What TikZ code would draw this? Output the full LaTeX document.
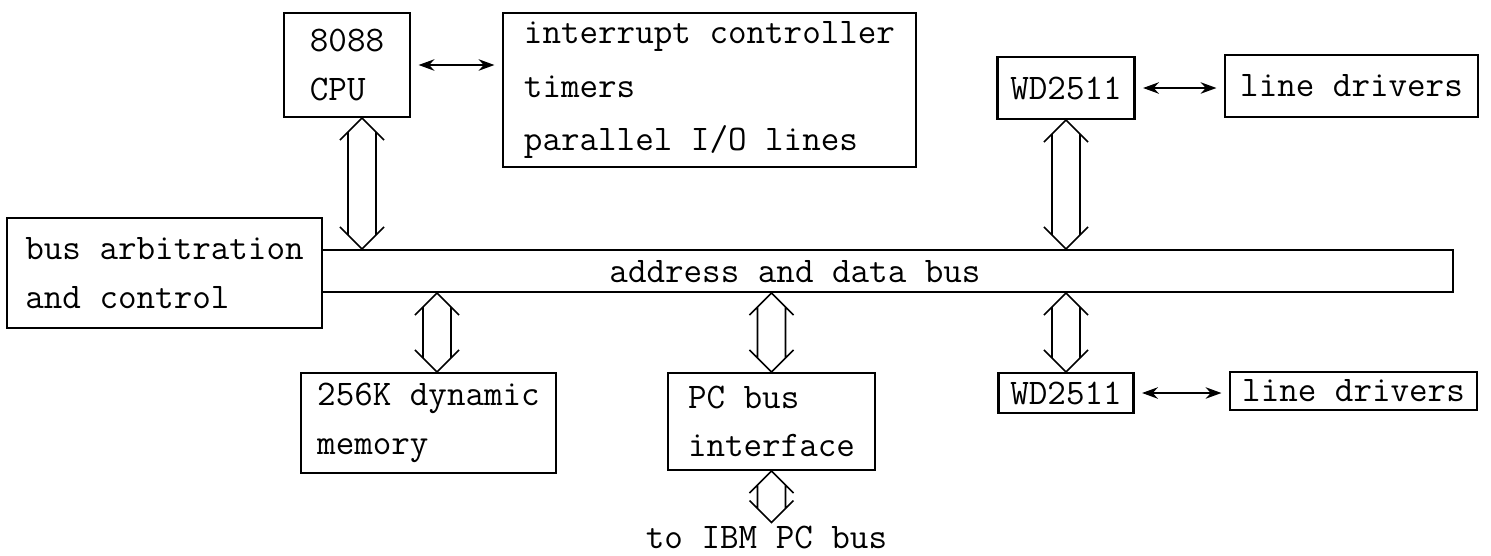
\documentclass[tikz,border=0pt]{standalone}
\usepackage{tikz}
\usetikzlibrary{arrows.meta}
\usetikzlibrary{calc}

\newcommand{\tyfont}{\fontsize{20.5}{27.5}\selectfont\ttfamily}

\tikzset{
  block/.style={draw=black, line width=1.2pt, align=left, inner sep=0pt, font=\tyfont},
  biarrow/.style={line width=1.1pt, {Stealth[length=9pt,width=6.5pt]}-{Stealth[length=9pt,width=6.5pt]}, shorten <=0.15cm, shorten >=0.15cm},
  % wide hollow two-way arrow, drawn from an upper point to a lower one
  busarrow/.style={line width=0.9pt, line join=miter, to path={let \p1=(\tikztostart), \p2=(\tikztotarget) in
     (\x1-0.44cm,\y1-0.44cm) -- (\x1,\y1) -- (\x1+0.44cm,\y1-0.44cm)
     (\x1-0.28cm,\y1-0.28cm) -- (\x2-0.28cm,\y2+0.28cm)
     (\x1+0.28cm,\y1-0.28cm) -- (\x2+0.28cm,\y2+0.28cm)
     (\x2-0.44cm,\y2+0.44cm) -- (\x2,\y2) -- (\x2+0.44cm,\y2+0.44cm)}}
}

\begin{document}
\begin{tikzpicture}

\useasboundingbox (0, 0) rectangle (29.82, 11.1);

\node[block, minimum width=2.52cm, minimum height=2.08cm] (cpu) at (6.94, 9.80) {8088\\CPU};
\node[block, minimum width=8.26cm, minimum height=3.08cm] (intr) at (14.19, 9.30) {interrupt controller\\[3pt]timers\\[3pt]parallel I/O lines};

\node[block, minimum width=2.74cm, minimum height=1.24cm] (wdtop) at (21.32, 9.34) {WD2511};
\node[block, minimum width=5.06cm, minimum height=1.24cm] (ldtop) at (27.03, 9.38) {line drivers};

\node[block, minimum width=22.62cm, minimum height=0.84cm] (bus) at (17.75, 5.68) {};
\node[font=\tyfont] (bustext) at (15.9, 5.66) {address and data bus};
\node[block, fill=white, minimum width=6.3cm, minimum height=2.2cm] (busarb) at (3.29, 5.64) {bus arbitration\\and control};

\node[block, minimum width=5.10cm, minimum height=2.0cm] (mem) at (8.57, 2.64) {256K dynamic\\memory};
\node[block, minimum width=4.14cm, minimum height=1.94cm] (pcif) at (15.43, 2.67) {PC bus\\interface};

\node[block, minimum width=2.70cm, minimum height=0.80cm] (wdbot) at (21.32, 3.24) {WD2511};
\node[block, minimum width=4.94cm, minimum height=0.76cm] (ldbot) at (27.07, 3.28) {line drivers};

\node[font=\tyfont, anchor=base, inner sep=1.5pt] (ibm) at (15.33, 0.14) {to IBM PC bus};

% side links
\draw[biarrow] (cpu.east) -- (cpu.east -| intr.west);
\draw[biarrow] (wdtop.east) -- (wdtop.east -| ldtop.west);
\draw[biarrow] (wdbot.east) -- (wdbot.east -| ldbot.west);

% links onto the bus
\draw[busarrow] ([xshift=0.3cm]cpu.south) to ([xshift=0.3cm]cpu.south |- bus.north);
\draw[busarrow] (wdtop.south) to (wdtop.south |- bus.north);
\draw[busarrow] ([xshift=0.17cm]mem.north |- bus.south) to ([xshift=0.17cm]mem.north);
\draw[busarrow] (pcif.north |- bus.south) to (pcif.north);
\draw[busarrow] (wdbot.north |- bus.south) to (wdbot.north);
\draw[busarrow] (pcif.south) to (pcif.south |- ibm.north);

\end{tikzpicture}
\end{document}
